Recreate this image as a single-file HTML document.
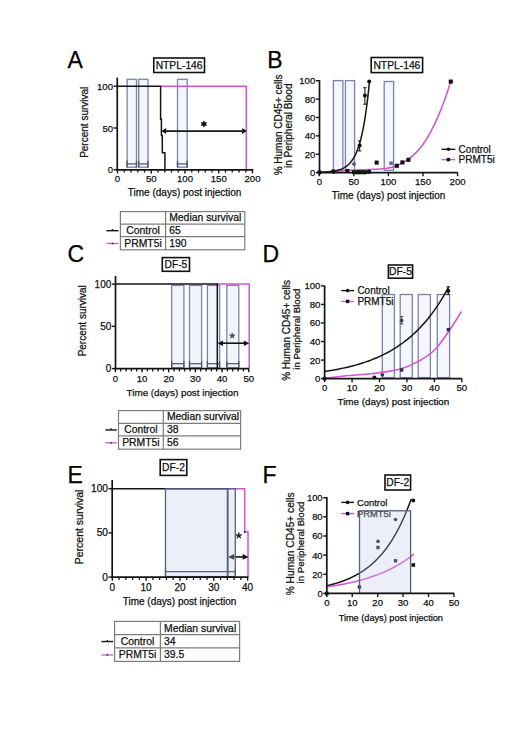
<!DOCTYPE html>
<html><head><meta charset="utf-8"><style>
html,body{margin:0;padding:0;background:#fff;}
svg{display:block;font-family:"Liberation Sans", sans-serif;}
</style></head><body>
<svg width="520" height="751" viewBox="0 0 520 751">
<rect width="520" height="751" fill="#fff"/>
<text x="67.4" y="67.6" font-size="23" text-anchor="start" fill="#000" stroke="#000" stroke-width="0.25" >A</text>
<rect x="153.75" y="58" width="50.75" height="14.5" fill="#fff" stroke="#111" stroke-width="1.6" />
<text x="179.12" y="68.85" font-size="10.3" text-anchor="middle" fill="#111" stroke="#111" stroke-width="0.25" >NTPL-146</text>
<rect x="127.1" y="79.3" width="9.4" height="87.9" fill="#f4f6fb" stroke="#7884ac" stroke-width="1.3" fill-opacity="1"/>
<line x1="127.1" y1="163.9" x2="136.5" y2="163.9" stroke="#4a5068" stroke-width="1.2" />
<line x1="127.1" y1="160.8" x2="127.1" y2="167.4" stroke="#4a5068" stroke-width="1.3" />
<line x1="136.5" y1="160.8" x2="136.5" y2="167.4" stroke="#4a5068" stroke-width="1.3" />
<rect x="138.7" y="79.3" width="9.3" height="87.9" fill="#f4f6fb" stroke="#7884ac" stroke-width="1.3" fill-opacity="1"/>
<line x1="138.7" y1="163.9" x2="148" y2="163.9" stroke="#4a5068" stroke-width="1.2" />
<line x1="138.7" y1="160.8" x2="138.7" y2="167.4" stroke="#4a5068" stroke-width="1.3" />
<line x1="148" y1="160.8" x2="148" y2="167.4" stroke="#4a5068" stroke-width="1.3" />
<rect x="177.5" y="79.3" width="9.7" height="87.9" fill="#f4f6fb" stroke="#7884ac" stroke-width="1.3" fill-opacity="1"/>
<line x1="177.5" y1="163.9" x2="187.2" y2="163.9" stroke="#4a5068" stroke-width="1.2" />
<line x1="177.5" y1="160.8" x2="177.5" y2="167.4" stroke="#4a5068" stroke-width="1.3" />
<line x1="187.2" y1="160.8" x2="187.2" y2="167.4" stroke="#4a5068" stroke-width="1.3" />
<path d="M161.04,86.2 H246.3 V169.8" stroke="#d452d4" stroke-width="1.5" fill="none" />
<path d="M117.2,86.2 H160.6 V119.2 H161.4 V135.5 H162.3 V152.8 H164.9 V169.8" stroke="#141414" stroke-width="1.5" fill="none" />
<line x1="165.7" y1="131.1" x2="242.6" y2="131.1" stroke="#141414" stroke-width="1.6" />
<path d="M161.4,131.1 L166.2,128.1 L166.2,134.1 Z" stroke="none" stroke-width="0" fill="#141414" />
<path d="M246.9,131.1 L242.1,128.1 L242.1,134.1 Z" stroke="none" stroke-width="0" fill="#141414" />
<line x1="203.9" y1="121.5" x2="203.9" y2="126.5" stroke="#141414" stroke-width="1.5" stroke-linecap="round"/>
<line x1="201.73" y1="122.75" x2="206.07" y2="125.25" stroke="#141414" stroke-width="1.5" stroke-linecap="round"/>
<line x1="201.73" y1="125.25" x2="206.07" y2="122.75" stroke="#141414" stroke-width="1.5" stroke-linecap="round"/>
<circle cx="203.9" cy="124" r="1.5" fill="#141414"/>
<line x1="117.25" y1="77.6" x2="117.25" y2="170.6" stroke="#141414" stroke-width="1.7" />
<line x1="113.65" y1="169.8" x2="117.25" y2="169.8" stroke="#141414" stroke-width="1.4" />
<text x="113.05" y="173.3" font-size="9.6" text-anchor="end" fill="#111" stroke="#111" stroke-width="0.25" >0</text>
<line x1="113.65" y1="128" x2="117.25" y2="128" stroke="#141414" stroke-width="1.4" />
<text x="113.05" y="131.5" font-size="9.6" text-anchor="end" fill="#111" stroke="#111" stroke-width="0.25" >50</text>
<line x1="113.65" y1="86.2" x2="117.25" y2="86.2" stroke="#141414" stroke-width="1.4" />
<text x="113.05" y="89.7" font-size="9.6" text-anchor="end" fill="#111" stroke="#111" stroke-width="0.25" >100</text>
<line x1="116.4" y1="169.8" x2="253.2" y2="169.8" stroke="#141414" stroke-width="1.7" />
<line x1="124.25" y1="169.8" x2="124.25" y2="172.6" stroke="#141414" stroke-width="1.3" />
<line x1="131" y1="169.8" x2="131" y2="172.6" stroke="#141414" stroke-width="1.3" />
<line x1="137.75" y1="169.8" x2="137.75" y2="172.6" stroke="#141414" stroke-width="1.3" />
<line x1="144.5" y1="169.8" x2="144.5" y2="172.6" stroke="#141414" stroke-width="1.3" />
<line x1="158" y1="169.8" x2="158" y2="172.6" stroke="#141414" stroke-width="1.3" />
<line x1="164.75" y1="169.8" x2="164.75" y2="172.6" stroke="#141414" stroke-width="1.3" />
<line x1="171.5" y1="169.8" x2="171.5" y2="172.6" stroke="#141414" stroke-width="1.3" />
<line x1="178.25" y1="169.8" x2="178.25" y2="172.6" stroke="#141414" stroke-width="1.3" />
<line x1="191.75" y1="169.8" x2="191.75" y2="172.6" stroke="#141414" stroke-width="1.3" />
<line x1="198.5" y1="169.8" x2="198.5" y2="172.6" stroke="#141414" stroke-width="1.3" />
<line x1="205.25" y1="169.8" x2="205.25" y2="172.6" stroke="#141414" stroke-width="1.3" />
<line x1="212" y1="169.8" x2="212" y2="172.6" stroke="#141414" stroke-width="1.3" />
<line x1="225.5" y1="169.8" x2="225.5" y2="172.6" stroke="#141414" stroke-width="1.3" />
<line x1="232.25" y1="169.8" x2="232.25" y2="172.6" stroke="#141414" stroke-width="1.3" />
<line x1="239" y1="169.8" x2="239" y2="172.6" stroke="#141414" stroke-width="1.3" />
<line x1="245.75" y1="169.8" x2="245.75" y2="172.6" stroke="#141414" stroke-width="1.3" />
<line x1="117.5" y1="169.8" x2="117.5" y2="173.4" stroke="#141414" stroke-width="1.4" />
<text x="117.5" y="182.4" font-size="9.6" text-anchor="middle" fill="#111" stroke="#111" stroke-width="0.25" >0</text>
<line x1="151.25" y1="169.8" x2="151.25" y2="173.4" stroke="#141414" stroke-width="1.4" />
<text x="151.25" y="182.4" font-size="9.6" text-anchor="middle" fill="#111" stroke="#111" stroke-width="0.25" >50</text>
<line x1="185" y1="169.8" x2="185" y2="173.4" stroke="#141414" stroke-width="1.4" />
<text x="185" y="182.4" font-size="9.6" text-anchor="middle" fill="#111" stroke="#111" stroke-width="0.25" >100</text>
<line x1="218.75" y1="169.8" x2="218.75" y2="173.4" stroke="#141414" stroke-width="1.4" />
<text x="218.75" y="182.4" font-size="9.6" text-anchor="middle" fill="#111" stroke="#111" stroke-width="0.25" >150</text>
<line x1="252.5" y1="169.8" x2="252.5" y2="173.4" stroke="#141414" stroke-width="1.4" />
<text x="252.5" y="182.4" font-size="9.6" text-anchor="middle" fill="#111" stroke="#111" stroke-width="0.25" >200</text>
<text x="184.6" y="196.1" font-size="10" text-anchor="middle" fill="#111" stroke="#111" stroke-width="0.25" >Time (days) post injection</text>
<text transform="translate(88,122.3) rotate(-90)" font-size="10" text-anchor="middle" fill="#111" stroke="#111" stroke-width="0.25" >Percent survival</text>
<rect x="120.4" y="211.6" width="124.4" height="38.2" fill="none" stroke="#7c7c7c" stroke-width="1.2" />
<line x1="120.4" y1="224.2" x2="244.8" y2="224.2" stroke="#7c7c7c" stroke-width="1.2" />
<line x1="120.4" y1="236.6" x2="244.8" y2="236.6" stroke="#7c7c7c" stroke-width="1.2" />
<line x1="165.6" y1="211.6" x2="165.6" y2="249.8" stroke="#7c7c7c" stroke-width="1.2" />
<text x="169.2" y="221.2" font-size="10.4" text-anchor="start" fill="#111" stroke="#111" stroke-width="0.25" >Median survival</text>
<text x="143" y="233.6" font-size="10.4" text-anchor="middle" fill="#111" stroke="#111" stroke-width="0.25" >Control</text>
<text x="143" y="246.6" font-size="10.4" text-anchor="middle" fill="#111" stroke="#111" stroke-width="0.25" >PRMT5i</text>
<text x="169.2" y="233.6" font-size="10.4" text-anchor="start" fill="#111" stroke="#111" stroke-width="0.25" >65</text>
<text x="169.2" y="246.6" font-size="10.4" text-anchor="start" fill="#111" stroke="#111" stroke-width="0.25" >190</text>
<line x1="106.5" y1="230.7" x2="118.5" y2="230.7" stroke="#141414" stroke-width="1.4" />
<line x1="112.5" y1="229.1" x2="112.5" y2="230.7" stroke="#141414" stroke-width="1.3" />
<line x1="106.5" y1="243.5" x2="118.5" y2="243.5" stroke="#d452d4" stroke-width="1.3" />
<circle cx="112.5" cy="243.5" r="0.9" fill="#333"/>
<text x="267.2" y="67.6" font-size="23" text-anchor="start" fill="#000" stroke="#000" stroke-width="0.25" >B</text>
<rect x="371.2" y="57.5" width="51.4" height="15.1" fill="#fff" stroke="#111" stroke-width="1.6" />
<text x="396.9" y="68.65" font-size="10.3" text-anchor="middle" fill="#111" stroke="#111" stroke-width="0.25" >NTPL-146</text>
<rect x="333.4" y="80.6" width="9.5" height="89.7" fill="#f4f6fb" stroke="#7884ac" stroke-width="1.3" fill-opacity="1"/>
<rect x="345.4" y="80.6" width="9.2" height="89.7" fill="#f4f6fb" stroke="#7884ac" stroke-width="1.3" fill-opacity="1"/>
<rect x="384.2" y="81.5" width="9.4" height="88.8" fill="#f4f6fb" stroke="#7884ac" stroke-width="1.3" fill-opacity="1"/>
<path d="M318.9,172.2 C320.75,172.1 325.65,171.87 330,171.6 C334.35,171.33 340,170.9 345,170.6 C350,170.3 355.83,169.97 360,169.8 C364.17,169.63 365.45,169.87 370,169.6 C374.55,169.33 382.97,168.82 387.3,168.2 C391.63,167.58 393.12,167 396,165.9 C398.88,164.8 401.72,163.35 404.6,161.6 C407.48,159.85 410.42,158 413.3,155.4 C416.18,152.8 419.02,149.88 421.9,146 C424.78,142.12 427.72,137.45 430.6,132.1 C433.48,126.75 436.62,119.95 439.2,113.9 C441.78,107.85 444.2,101.17 446.1,95.8 C448,90.43 449.85,84.05 450.6,81.7" stroke="#d452d4" stroke-width="1.5" fill="none" />
<path d="M319.3,172.32 L320.13,172.3 L320.97,172.27 L321.8,172.23 L322.64,172.19 L323.47,172.15 L324.31,172.11 L325.14,172.06 L325.98,172 L326.81,171.94 L327.64,171.88 L328.48,171.8 L329.31,171.72 L330.15,171.63 L330.98,171.53 L331.82,171.43 L332.65,171.31 L333.48,171.18 L334.32,171.03 L335.15,170.87 L335.99,170.7 L336.82,170.51 L337.66,170.29 L338.49,170.06 L339.33,169.8 L340.16,169.52 L340.99,169.21 L341.83,168.86 L342.66,168.49 L343.5,168.07 L344.33,167.61 L345.17,167.1 L346,166.55 L346.84,165.93 L347.67,165.26 L348.5,164.51 L349.34,163.69 L350.17,162.79 L351.01,161.8 L351.84,160.7 L352.68,159.5 L353.51,158.17 L354.35,156.71 L355.18,155.09 L356.01,153.32 L356.85,151.37 L357.68,149.22 L358.52,146.85 L359.35,144.23 L360.19,141.36 L361.02,138.19 L361.85,134.71 L362.69,130.87 L363.52,126.64 L364.36,121.98 L365.19,116.85 L366.03,111.2 L366.86,104.98 L367.7,98.12 L368.53,90.57 L369.36,82.26" stroke="#141414" stroke-width="1.5" fill="none" />
<line x1="364.9" y1="87.7" x2="364.9" y2="104.2" stroke="#222" stroke-width="1.1" />
<line x1="363.2" y1="87.7" x2="366.6" y2="87.7" stroke="#222" stroke-width="1.1" />
<line x1="363.2" y1="104.2" x2="366.6" y2="104.2" stroke="#222" stroke-width="1.1" />
<circle cx="364.9" cy="95.6" r="2" fill="#111"/>
<line x1="359.6" y1="140.9" x2="359.6" y2="150.9" stroke="#222" stroke-width="1.1" />
<line x1="357.9" y1="140.9" x2="361.3" y2="140.9" stroke="#222" stroke-width="1.1" />
<line x1="357.9" y1="150.9" x2="361.3" y2="150.9" stroke="#222" stroke-width="1.1" />
<circle cx="359.6" cy="145.6" r="2" fill="#111"/>
<path d="M354,161.6 L356.4,164 L354,166.4 L351.6,164 Z" fill="#555c70"/>
<circle cx="319.4" cy="172.4" r="2.3" fill="#111"/>
<circle cx="333.3" cy="171.6" r="2.3" fill="#111"/>
<circle cx="353.9" cy="172.2" r="2.3" fill="#111"/>
<circle cx="357" cy="172.2" r="2.3" fill="#111"/>
<circle cx="359.6" cy="172.2" r="2.3" fill="#111"/>
<circle cx="362.4" cy="172.2" r="2.3" fill="#111"/>
<circle cx="365.1" cy="172.2" r="2.3" fill="#111"/>
<circle cx="369" cy="171.8" r="2.3" fill="#111"/>
<circle cx="369.2" cy="81.6" r="2" fill="#111"/>
<rect x="345.25" y="168.95" width="4.1" height="4.1" fill="#111" stroke="none" stroke-width="1" />
<rect x="374.55" y="160.55" width="4.1" height="4.1" fill="#111" stroke="none" stroke-width="1" />
<rect x="394.75" y="163.75" width="4.1" height="4.1" fill="#111" stroke="none" stroke-width="1" />
<rect x="400.35" y="160.35" width="4.1" height="4.1" fill="#111" stroke="none" stroke-width="1" />
<rect x="406.35" y="157.75" width="4.1" height="4.1" fill="#111" stroke="none" stroke-width="1" />
<rect x="448.75" y="79.55" width="4.1" height="4.1" fill="#111" stroke="none" stroke-width="1" />
<rect x="389.3" y="161.4" width="3.6" height="3.6" fill="#6a6f85" stroke="none" stroke-width="1" />
<line x1="319.5" y1="80.2" x2="319.5" y2="173.4" stroke="#141414" stroke-width="1.7" />
<line x1="315.9" y1="172.6" x2="319.5" y2="172.6" stroke="#141414" stroke-width="1.4" />
<text x="315.3" y="176.1" font-size="9.6" text-anchor="end" fill="#111" stroke="#111" stroke-width="0.25" >0</text>
<line x1="315.9" y1="154.22" x2="319.5" y2="154.22" stroke="#141414" stroke-width="1.4" />
<text x="315.3" y="157.72" font-size="9.6" text-anchor="end" fill="#111" stroke="#111" stroke-width="0.25" >20</text>
<line x1="315.9" y1="135.84" x2="319.5" y2="135.84" stroke="#141414" stroke-width="1.4" />
<text x="315.3" y="139.34" font-size="9.6" text-anchor="end" fill="#111" stroke="#111" stroke-width="0.25" >40</text>
<line x1="315.9" y1="117.46" x2="319.5" y2="117.46" stroke="#141414" stroke-width="1.4" />
<text x="315.3" y="120.96" font-size="9.6" text-anchor="end" fill="#111" stroke="#111" stroke-width="0.25" >60</text>
<line x1="315.9" y1="99.08" x2="319.5" y2="99.08" stroke="#141414" stroke-width="1.4" />
<text x="315.3" y="102.58" font-size="9.6" text-anchor="end" fill="#111" stroke="#111" stroke-width="0.25" >80</text>
<line x1="315.9" y1="80.7" x2="319.5" y2="80.7" stroke="#141414" stroke-width="1.4" />
<text x="315.3" y="84.2" font-size="9.6" text-anchor="end" fill="#111" stroke="#111" stroke-width="0.25" >100</text>
<line x1="318.3" y1="172.6" x2="457.8" y2="172.6" stroke="#141414" stroke-width="1.7" />
<line x1="319.3" y1="172.6" x2="319.3" y2="176.2" stroke="#141414" stroke-width="1.4" />
<text x="319.3" y="185.2" font-size="9.6" text-anchor="middle" fill="#111" stroke="#111" stroke-width="0.25" >0</text>
<line x1="353.88" y1="172.6" x2="353.88" y2="176.2" stroke="#141414" stroke-width="1.4" />
<text x="353.88" y="185.2" font-size="9.6" text-anchor="middle" fill="#111" stroke="#111" stroke-width="0.25" >50</text>
<line x1="388.45" y1="172.6" x2="388.45" y2="176.2" stroke="#141414" stroke-width="1.4" />
<text x="388.45" y="185.2" font-size="9.6" text-anchor="middle" fill="#111" stroke="#111" stroke-width="0.25" >100</text>
<line x1="423.02" y1="172.6" x2="423.02" y2="176.2" stroke="#141414" stroke-width="1.4" />
<text x="423.02" y="185.2" font-size="9.6" text-anchor="middle" fill="#111" stroke="#111" stroke-width="0.25" >150</text>
<line x1="457.6" y1="172.6" x2="457.6" y2="176.2" stroke="#141414" stroke-width="1.4" />
<text x="457.6" y="185.2" font-size="9.6" text-anchor="middle" fill="#111" stroke="#111" stroke-width="0.25" >200</text>
<text x="388.6" y="198.6" font-size="10" text-anchor="middle" fill="#111" stroke="#111" stroke-width="0.25" >Time (days) post injection</text>
<text transform="translate(281.7,124.9) rotate(-90)" font-size="10" text-anchor="middle" fill="#111" stroke="#111" stroke-width="0.25" >% Human CD45+ cells</text>
<text transform="translate(292.1,125.8) rotate(-90)" font-size="10" text-anchor="middle" fill="#111" stroke="#111" stroke-width="0.25" >in Peripheral Blood</text>
<line x1="441.5" y1="149.3" x2="455.3" y2="149.3" stroke="#141414" stroke-width="1.4" />
<circle cx="448.4" cy="149.3" r="1.8" fill="#111"/>
<line x1="441.5" y1="159.6" x2="455.3" y2="159.6" stroke="#d452d4" stroke-width="1.4" />
<rect x="446.7" y="157.9" width="3.4" height="3.4" fill="#111" stroke="none" stroke-width="1" />
<text x="458.6" y="152.8" font-size="10" text-anchor="start" fill="#111" stroke="#111" stroke-width="0.25" >Control</text>
<text x="458.6" y="163" font-size="10" text-anchor="start" fill="#111" stroke="#111" stroke-width="0.25" >PRMT5i</text>
<text x="67.6" y="261.5" font-size="23" text-anchor="start" fill="#000" stroke="#000" stroke-width="0.25" >C</text>
<rect x="162.3" y="257.6" width="27.2" height="13.7" fill="#fff" stroke="#111" stroke-width="1.6" />
<text x="175.9" y="268.05" font-size="10.3" text-anchor="middle" fill="#111" stroke="#111" stroke-width="0.25" >DF-5</text>
<rect x="171.7" y="285.4" width="12.2" height="82.2" fill="#f3f5fb" stroke="#7c84aa" stroke-width="1.3" fill-opacity="1"/>
<line x1="171.7" y1="363.7" x2="183.9" y2="363.7" stroke="#4a5068" stroke-width="1.2" />
<line x1="171.7" y1="361" x2="171.7" y2="367.6" stroke="#4a5068" stroke-width="1.3" />
<line x1="183.9" y1="361" x2="183.9" y2="367.6" stroke="#4a5068" stroke-width="1.3" />
<rect x="189.5" y="285.4" width="12.1" height="82.2" fill="#f3f5fb" stroke="#7c84aa" stroke-width="1.3" fill-opacity="1"/>
<line x1="189.5" y1="363.7" x2="201.6" y2="363.7" stroke="#4a5068" stroke-width="1.2" />
<line x1="189.5" y1="361" x2="189.5" y2="367.6" stroke="#4a5068" stroke-width="1.3" />
<line x1="201.6" y1="361" x2="201.6" y2="367.6" stroke="#4a5068" stroke-width="1.3" />
<rect x="207.4" y="285.4" width="12.2" height="82.2" fill="#f3f5fb" stroke="#7c84aa" stroke-width="1.3" fill-opacity="1"/>
<line x1="207.4" y1="363.7" x2="219.6" y2="363.7" stroke="#4a5068" stroke-width="1.2" />
<line x1="207.4" y1="361" x2="207.4" y2="367.6" stroke="#4a5068" stroke-width="1.3" />
<line x1="219.6" y1="361" x2="219.6" y2="367.6" stroke="#4a5068" stroke-width="1.3" />
<rect x="226.8" y="285.4" width="12" height="82.2" fill="#f3f5fb" stroke="#7c84aa" stroke-width="1.3" fill-opacity="1"/>
<line x1="226.8" y1="363.7" x2="238.8" y2="363.7" stroke="#4a5068" stroke-width="1.2" />
<line x1="226.8" y1="361" x2="226.8" y2="367.6" stroke="#4a5068" stroke-width="1.3" />
<line x1="238.8" y1="361" x2="238.8" y2="367.6" stroke="#4a5068" stroke-width="1.3" />
<path d="M217.3,284.1 H249.2 V368.6" stroke="#d452d4" stroke-width="1.5" fill="none" />
<path d="M115.4,284.1 H217.3 V368.6" stroke="#141414" stroke-width="1.5" fill="none" />
<line x1="222.5" y1="343.2" x2="244.4" y2="343.2" stroke="#141414" stroke-width="1.6" />
<path d="M217.6,343.2 L223,340.5 L223,345.9 Z" stroke="none" stroke-width="0" fill="#141414" />
<path d="M249.3,343.2 L243.9,340.5 L243.9,345.9 Z" stroke="none" stroke-width="0" fill="#141414" />
<line x1="232.2" y1="335.7" x2="232.2" y2="333.3" stroke="#3a3a44" stroke-width="1.2" stroke-linecap="round"/>
<line x1="232.2" y1="335.7" x2="234.48" y2="334.96" stroke="#3a3a44" stroke-width="1.2" stroke-linecap="round"/>
<line x1="232.2" y1="335.7" x2="233.61" y2="337.64" stroke="#3a3a44" stroke-width="1.2" stroke-linecap="round"/>
<line x1="232.2" y1="335.7" x2="230.79" y2="337.64" stroke="#3a3a44" stroke-width="1.2" stroke-linecap="round"/>
<line x1="232.2" y1="335.7" x2="229.92" y2="334.96" stroke="#3a3a44" stroke-width="1.2" stroke-linecap="round"/>
<line x1="115.5" y1="275.8" x2="115.5" y2="369.4" stroke="#141414" stroke-width="1.7" />
<line x1="111.9" y1="368.6" x2="115.5" y2="368.6" stroke="#141414" stroke-width="1.4" />
<text x="111.3" y="372.1" font-size="10" text-anchor="end" fill="#111" stroke="#111" stroke-width="0.25" >0</text>
<line x1="111.9" y1="326.35" x2="115.5" y2="326.35" stroke="#141414" stroke-width="1.4" />
<text x="111.3" y="329.85" font-size="10" text-anchor="end" fill="#111" stroke="#111" stroke-width="0.25" >50</text>
<line x1="111.9" y1="284.1" x2="115.5" y2="284.1" stroke="#141414" stroke-width="1.4" />
<text x="111.3" y="287.6" font-size="10" text-anchor="end" fill="#111" stroke="#111" stroke-width="0.25" >100</text>
<line x1="114.6" y1="368.6" x2="249" y2="368.6" stroke="#141414" stroke-width="1.7" />
<line x1="120.73" y1="368.6" x2="120.73" y2="371.4" stroke="#141414" stroke-width="1.3" />
<line x1="126.07" y1="368.6" x2="126.07" y2="371.4" stroke="#141414" stroke-width="1.3" />
<line x1="131.4" y1="368.6" x2="131.4" y2="371.4" stroke="#141414" stroke-width="1.3" />
<line x1="136.74" y1="368.6" x2="136.74" y2="371.4" stroke="#141414" stroke-width="1.3" />
<line x1="147.4" y1="368.6" x2="147.4" y2="371.4" stroke="#141414" stroke-width="1.3" />
<line x1="152.74" y1="368.6" x2="152.74" y2="371.4" stroke="#141414" stroke-width="1.3" />
<line x1="158.07" y1="368.6" x2="158.07" y2="371.4" stroke="#141414" stroke-width="1.3" />
<line x1="163.41" y1="368.6" x2="163.41" y2="371.4" stroke="#141414" stroke-width="1.3" />
<line x1="174.07" y1="368.6" x2="174.07" y2="371.4" stroke="#141414" stroke-width="1.3" />
<line x1="179.41" y1="368.6" x2="179.41" y2="371.4" stroke="#141414" stroke-width="1.3" />
<line x1="184.74" y1="368.6" x2="184.74" y2="371.4" stroke="#141414" stroke-width="1.3" />
<line x1="190.08" y1="368.6" x2="190.08" y2="371.4" stroke="#141414" stroke-width="1.3" />
<line x1="200.74" y1="368.6" x2="200.74" y2="371.4" stroke="#141414" stroke-width="1.3" />
<line x1="206.08" y1="368.6" x2="206.08" y2="371.4" stroke="#141414" stroke-width="1.3" />
<line x1="211.41" y1="368.6" x2="211.41" y2="371.4" stroke="#141414" stroke-width="1.3" />
<line x1="216.75" y1="368.6" x2="216.75" y2="371.4" stroke="#141414" stroke-width="1.3" />
<line x1="227.41" y1="368.6" x2="227.41" y2="371.4" stroke="#141414" stroke-width="1.3" />
<line x1="232.75" y1="368.6" x2="232.75" y2="371.4" stroke="#141414" stroke-width="1.3" />
<line x1="238.08" y1="368.6" x2="238.08" y2="371.4" stroke="#141414" stroke-width="1.3" />
<line x1="243.42" y1="368.6" x2="243.42" y2="371.4" stroke="#141414" stroke-width="1.3" />
<line x1="115.4" y1="368.6" x2="115.4" y2="372.2" stroke="#141414" stroke-width="1.4" />
<text x="115.4" y="381.8" font-size="9.6" text-anchor="middle" fill="#111" stroke="#111" stroke-width="0.25" >0</text>
<line x1="142.07" y1="368.6" x2="142.07" y2="372.2" stroke="#141414" stroke-width="1.4" />
<text x="142.07" y="381.8" font-size="9.6" text-anchor="middle" fill="#111" stroke="#111" stroke-width="0.25" >10</text>
<line x1="168.74" y1="368.6" x2="168.74" y2="372.2" stroke="#141414" stroke-width="1.4" />
<text x="168.74" y="381.8" font-size="9.6" text-anchor="middle" fill="#111" stroke="#111" stroke-width="0.25" >20</text>
<line x1="195.41" y1="368.6" x2="195.41" y2="372.2" stroke="#141414" stroke-width="1.4" />
<text x="195.41" y="381.8" font-size="9.6" text-anchor="middle" fill="#111" stroke="#111" stroke-width="0.25" >30</text>
<line x1="222.08" y1="368.6" x2="222.08" y2="372.2" stroke="#141414" stroke-width="1.4" />
<text x="222.08" y="381.8" font-size="9.6" text-anchor="middle" fill="#111" stroke="#111" stroke-width="0.25" >40</text>
<line x1="248.75" y1="368.6" x2="248.75" y2="372.2" stroke="#141414" stroke-width="1.4" />
<text x="248.75" y="381.8" font-size="9.6" text-anchor="middle" fill="#111" stroke="#111" stroke-width="0.25" >50</text>
<text x="182.5" y="395.5" font-size="9.85" text-anchor="middle" fill="#111" stroke="#111" stroke-width="0.25" >Time (days) post injection</text>
<text transform="translate(86.3,320.8) rotate(-90)" font-size="10" text-anchor="middle" fill="#111" stroke="#111" stroke-width="0.25" >Percent survival</text>
<rect x="118.5" y="410.6" width="122.1" height="38.6" fill="none" stroke="#7c7c7c" stroke-width="1.2" />
<line x1="118.5" y1="423.4" x2="240.6" y2="423.4" stroke="#7c7c7c" stroke-width="1.2" />
<line x1="118.5" y1="435.9" x2="240.6" y2="435.9" stroke="#7c7c7c" stroke-width="1.2" />
<line x1="163.3" y1="410.6" x2="163.3" y2="449.2" stroke="#7c7c7c" stroke-width="1.2" />
<text x="166.9" y="420.4" font-size="10.4" text-anchor="start" fill="#111" stroke="#111" stroke-width="0.25" >Median survival</text>
<text x="140.9" y="432.9" font-size="10.4" text-anchor="middle" fill="#111" stroke="#111" stroke-width="0.25" >Control</text>
<text x="140.9" y="446" font-size="10.4" text-anchor="middle" fill="#111" stroke="#111" stroke-width="0.25" >PRMT5i</text>
<text x="166.9" y="432.9" font-size="10.4" text-anchor="start" fill="#111" stroke="#111" stroke-width="0.25" >38</text>
<text x="166.9" y="446" font-size="10.4" text-anchor="start" fill="#111" stroke="#111" stroke-width="0.25" >56</text>
<line x1="105.3" y1="429.95" x2="116.8" y2="429.95" stroke="#141414" stroke-width="1.4" />
<line x1="111.05" y1="428.35" x2="111.05" y2="429.95" stroke="#141414" stroke-width="1.3" />
<line x1="105.3" y1="442.85" x2="116.8" y2="442.85" stroke="#d452d4" stroke-width="1.3" />
<circle cx="111.05" cy="442.85" r="0.9" fill="#333"/>
<text x="262.6" y="261.5" font-size="23" text-anchor="start" fill="#000" stroke="#000" stroke-width="0.25" >D</text>
<rect x="388.4" y="265" width="24.2" height="13.2" fill="#fff" stroke="#111" stroke-width="1.6" />
<text x="400.5" y="275.2" font-size="10.3" text-anchor="middle" fill="#111" stroke="#111" stroke-width="0.25" >DF-5</text>
<rect x="382.3" y="294.5" width="12.1" height="83.1" fill="#f4f6fb" stroke="#7884ac" stroke-width="1.3" fill-opacity="1"/>
<rect x="400.2" y="294.5" width="12.1" height="83.1" fill="#f4f6fb" stroke="#7884ac" stroke-width="1.3" fill-opacity="1"/>
<rect x="418.2" y="294.5" width="12.2" height="83.1" fill="#f4f6fb" stroke="#7884ac" stroke-width="1.3" fill-opacity="1"/>
<rect x="437.3" y="294.5" width="12.3" height="83.1" fill="#f4f6fb" stroke="#7884ac" stroke-width="1.3" fill-opacity="1"/>
<path d="M324.6,371.46 L326.66,371.15 L328.73,370.83 L330.79,370.49 L332.85,370.14 L334.92,369.77 L336.98,369.39 L339.04,368.99 L341.11,368.57 L343.17,368.14 L345.23,367.69 L347.3,367.21 L349.36,366.72 L351.42,366.2 L353.49,365.66 L355.55,365.1 L357.61,364.52 L359.68,363.91 L361.74,363.27 L363.8,362.6 L365.87,361.91 L367.93,361.19 L369.99,360.43 L372.06,359.64 L374.12,358.82 L376.18,357.96 L378.25,357.07 L380.31,356.13 L382.37,355.16 L384.44,354.14 L386.5,353.08 L388.56,351.97 L390.63,350.82 L392.69,349.61 L394.75,348.35 L396.82,347.04 L398.88,345.67 L400.94,344.24 L403.01,342.75 L405.07,341.2 L407.13,339.58 L409.2,337.88 L411.26,336.12 L413.32,334.27 L415.39,332.35 L417.45,330.34 L419.51,328.25 L421.58,326.07 L423.64,323.79 L425.7,321.41 L427.77,318.93 L429.83,316.34 L431.89,313.64 L433.96,310.82 L436.02,307.88 L438.08,304.81 L440.15,301.61 L442.21,298.27 L444.27,294.78 L446.34,291.15 L448.4,287.35" stroke="#141414" stroke-width="1.5" fill="none" />
<path d="M324.6,378.2 C328.63,377.77 339.95,376.48 348.8,375.6 C357.65,374.72 369.03,374.03 377.7,372.9 C386.37,371.77 393.58,370.98 400.8,368.8 C408.02,366.62 415.23,363.07 421,359.8 C426.77,356.53 430.6,354.2 435.4,349.2 C440.2,344.2 445.45,336.08 449.8,329.8 C454.15,323.52 459.55,314.55 461.5,311.5" stroke="#d452d4" stroke-width="1.5" fill="none" />
<line x1="401.6" y1="316.5" x2="401.6" y2="324" stroke="#555b70" stroke-width="1.1" />
<line x1="399.9" y1="316.5" x2="403.3" y2="316.5" stroke="#555b70" stroke-width="1.1" />
<line x1="399.9" y1="324" x2="403.3" y2="324" stroke="#555b70" stroke-width="1.1" />
<circle cx="401.6" cy="320.4" r="1.9" fill="#3f4560"/>
<line x1="448.3" y1="286.8" x2="448.3" y2="294.5" stroke="#222" stroke-width="1.1" />
<line x1="446.6" y1="286.8" x2="450" y2="286.8" stroke="#222" stroke-width="1.1" />
<line x1="446.6" y1="294.5" x2="450" y2="294.5" stroke="#222" stroke-width="1.1" />
<circle cx="448.3" cy="291" r="2" fill="#111"/>
<rect x="446.7" y="327.9" width="3.4" height="3.4" fill="#2a2e40" stroke="none" stroke-width="1" />
<rect x="399.9" y="368.3" width="3.4" height="3.4" fill="#2a2e40" stroke="none" stroke-width="1" />
<circle cx="382.3" cy="374.8" r="1.9" fill="#2a3a60"/>
<circle cx="374.4" cy="377.6" r="2" fill="#111"/>
<circle cx="324.6" cy="378.6" r="2.2" fill="#111"/>
<line x1="324.6" y1="285.6" x2="324.6" y2="379.4" stroke="#141414" stroke-width="1.7" />
<line x1="321" y1="378.6" x2="324.6" y2="378.6" stroke="#141414" stroke-width="1.4" />
<text x="320.4" y="382.1" font-size="9.6" text-anchor="end" fill="#111" stroke="#111" stroke-width="0.25" >0</text>
<line x1="321" y1="360.06" x2="324.6" y2="360.06" stroke="#141414" stroke-width="1.4" />
<text x="320.4" y="363.56" font-size="9.6" text-anchor="end" fill="#111" stroke="#111" stroke-width="0.25" >20</text>
<line x1="321" y1="341.52" x2="324.6" y2="341.52" stroke="#141414" stroke-width="1.4" />
<text x="320.4" y="345.02" font-size="9.6" text-anchor="end" fill="#111" stroke="#111" stroke-width="0.25" >40</text>
<line x1="321" y1="322.98" x2="324.6" y2="322.98" stroke="#141414" stroke-width="1.4" />
<text x="320.4" y="326.48" font-size="9.6" text-anchor="end" fill="#111" stroke="#111" stroke-width="0.25" >60</text>
<line x1="321" y1="304.44" x2="324.6" y2="304.44" stroke="#141414" stroke-width="1.4" />
<text x="320.4" y="307.94" font-size="9.6" text-anchor="end" fill="#111" stroke="#111" stroke-width="0.25" >80</text>
<line x1="321" y1="285.9" x2="324.6" y2="285.9" stroke="#141414" stroke-width="1.4" />
<text x="320.4" y="289.4" font-size="9.6" text-anchor="end" fill="#111" stroke="#111" stroke-width="0.25" >100</text>
<line x1="323.8" y1="378.6" x2="462" y2="378.6" stroke="#141414" stroke-width="1.7" />
<line x1="324.6" y1="378.6" x2="324.6" y2="382.2" stroke="#141414" stroke-width="1.4" />
<text x="324.6" y="391.2" font-size="9.6" text-anchor="middle" fill="#111" stroke="#111" stroke-width="0.25" >0</text>
<line x1="352.05" y1="378.6" x2="352.05" y2="382.2" stroke="#141414" stroke-width="1.4" />
<text x="352.05" y="391.2" font-size="9.6" text-anchor="middle" fill="#111" stroke="#111" stroke-width="0.25" >10</text>
<line x1="379.5" y1="378.6" x2="379.5" y2="382.2" stroke="#141414" stroke-width="1.4" />
<text x="379.5" y="391.2" font-size="9.6" text-anchor="middle" fill="#111" stroke="#111" stroke-width="0.25" >20</text>
<line x1="406.95" y1="378.6" x2="406.95" y2="382.2" stroke="#141414" stroke-width="1.4" />
<text x="406.95" y="391.2" font-size="9.6" text-anchor="middle" fill="#111" stroke="#111" stroke-width="0.25" >30</text>
<line x1="434.4" y1="378.6" x2="434.4" y2="382.2" stroke="#141414" stroke-width="1.4" />
<text x="434.4" y="391.2" font-size="9.6" text-anchor="middle" fill="#111" stroke="#111" stroke-width="0.25" >40</text>
<line x1="461.85" y1="378.6" x2="461.85" y2="382.2" stroke="#141414" stroke-width="1.4" />
<text x="461.85" y="391.2" font-size="9.6" text-anchor="middle" fill="#111" stroke="#111" stroke-width="0.25" >50</text>
<text x="393.4" y="404.6" font-size="9.85" text-anchor="middle" fill="#111" stroke="#111" stroke-width="0.25" >Time (days) post injection</text>
<text transform="translate(289.9,330.4) rotate(-90)" font-size="10" text-anchor="middle" fill="#111" stroke="#111" stroke-width="0.25" >% Human CD45+ cells</text>
<text transform="translate(299.6,329.2) rotate(-90)" font-size="9.6" text-anchor="middle" fill="#111" stroke="#111" stroke-width="0.25" >in Peripheral Blood</text>
<line x1="341.3" y1="290.6" x2="354" y2="290.6" stroke="#141414" stroke-width="1.4" />
<circle cx="347.6" cy="290.6" r="1.8" fill="#111"/>
<line x1="341.3" y1="301.4" x2="354" y2="301.4" stroke="#d452d4" stroke-width="1.4" />
<rect x="345.9" y="299.7" width="3.4" height="3.4" fill="#111" stroke="none" stroke-width="1" />
<text x="357.4" y="294" font-size="10" text-anchor="start" fill="#111" stroke="#111" stroke-width="0.25" >Control</text>
<text x="357.4" y="304.6" font-size="10" text-anchor="start" fill="#111" stroke="#111" stroke-width="0.25" >PRMT5i</text>
<text x="67.6" y="483.2" font-size="23" text-anchor="start" fill="#000" stroke="#000" stroke-width="0.25" >E</text>
<rect x="160.2" y="459.6" width="26.6" height="15.8" fill="#fff" stroke="#111" stroke-width="1.6" />
<text x="173.5" y="471.1" font-size="10.3" text-anchor="middle" fill="#111" stroke="#111" stroke-width="0.25" >DF-2</text>
<path d="M227.6,488.7 H244.7 V531.8 H248.0 V577.1" stroke="#d452d4" stroke-width="1.5" fill="none" />
<circle cx="244.9" cy="532" r="0.9" fill="#222"/>
<path d="M112.2,488.7 H227.6 V577.1" stroke="#141414" stroke-width="1.5" fill="none" />
<line x1="233.5" y1="556.9" x2="243.1" y2="556.9" stroke="#141414" stroke-width="1.6" />
<path d="M228,556.9 L234,554 L234,559.8 Z" stroke="none" stroke-width="0" fill="#141414" />
<path d="M248.6,556.9 L242.6,554 L242.6,559.8 Z" stroke="none" stroke-width="0" fill="#141414" />
<line x1="238.8" y1="535.6" x2="238.8" y2="533" stroke="#1a1a1a" stroke-width="1.4" stroke-linecap="round"/>
<line x1="238.8" y1="535.6" x2="241.27" y2="534.8" stroke="#1a1a1a" stroke-width="1.4" stroke-linecap="round"/>
<line x1="238.8" y1="535.6" x2="240.33" y2="537.7" stroke="#1a1a1a" stroke-width="1.4" stroke-linecap="round"/>
<line x1="238.8" y1="535.6" x2="237.27" y2="537.7" stroke="#1a1a1a" stroke-width="1.4" stroke-linecap="round"/>
<line x1="238.8" y1="535.6" x2="236.33" y2="534.8" stroke="#1a1a1a" stroke-width="1.4" stroke-linecap="round"/>
<rect x="165.5" y="488.8" width="62.1" height="87.8" fill="#c0cae8" stroke="#575f80" stroke-width="1.3" fill-opacity="0.3"/>
<rect x="227.6" y="488.8" width="7.7" height="87.8" fill="#c0cae8" stroke="#575f80" stroke-width="1.3" fill-opacity="0.3"/>
<line x1="165.5" y1="571.6" x2="235.3" y2="571.6" stroke="#5a6078" stroke-width="1.3" />
<line x1="165.5" y1="568.8" x2="165.5" y2="576.8" stroke="#5a6078" stroke-width="1.3" />
<line x1="235.3" y1="568.8" x2="235.3" y2="576.8" stroke="#5a6078" stroke-width="1.3" />
<line x1="112.2" y1="480" x2="112.2" y2="577.9" stroke="#141414" stroke-width="1.7" />
<line x1="108.6" y1="577.1" x2="112.2" y2="577.1" stroke="#141414" stroke-width="1.4" />
<text x="108" y="580.6" font-size="10.2" text-anchor="end" fill="#111" stroke="#111" stroke-width="0.25" >0</text>
<line x1="108.6" y1="532.9" x2="112.2" y2="532.9" stroke="#141414" stroke-width="1.4" />
<text x="108" y="536.4" font-size="10.2" text-anchor="end" fill="#111" stroke="#111" stroke-width="0.25" >50</text>
<line x1="108.6" y1="488.7" x2="112.2" y2="488.7" stroke="#141414" stroke-width="1.4" />
<text x="108" y="492.2" font-size="10.2" text-anchor="end" fill="#111" stroke="#111" stroke-width="0.25" >100</text>
<line x1="111.4" y1="577.1" x2="248.4" y2="577.1" stroke="#141414" stroke-width="1.7" />
<line x1="119.07" y1="577.1" x2="119.07" y2="579.9" stroke="#141414" stroke-width="1.3" />
<line x1="125.83" y1="577.1" x2="125.83" y2="579.9" stroke="#141414" stroke-width="1.3" />
<line x1="132.6" y1="577.1" x2="132.6" y2="579.9" stroke="#141414" stroke-width="1.3" />
<line x1="139.36" y1="577.1" x2="139.36" y2="579.9" stroke="#141414" stroke-width="1.3" />
<line x1="152.9" y1="577.1" x2="152.9" y2="579.9" stroke="#141414" stroke-width="1.3" />
<line x1="159.66" y1="577.1" x2="159.66" y2="579.9" stroke="#141414" stroke-width="1.3" />
<line x1="166.43" y1="577.1" x2="166.43" y2="579.9" stroke="#141414" stroke-width="1.3" />
<line x1="173.19" y1="577.1" x2="173.19" y2="579.9" stroke="#141414" stroke-width="1.3" />
<line x1="186.73" y1="577.1" x2="186.73" y2="579.9" stroke="#141414" stroke-width="1.3" />
<line x1="193.49" y1="577.1" x2="193.49" y2="579.9" stroke="#141414" stroke-width="1.3" />
<line x1="200.26" y1="577.1" x2="200.26" y2="579.9" stroke="#141414" stroke-width="1.3" />
<line x1="207.02" y1="577.1" x2="207.02" y2="579.9" stroke="#141414" stroke-width="1.3" />
<line x1="220.56" y1="577.1" x2="220.56" y2="579.9" stroke="#141414" stroke-width="1.3" />
<line x1="227.32" y1="577.1" x2="227.32" y2="579.9" stroke="#141414" stroke-width="1.3" />
<line x1="234.09" y1="577.1" x2="234.09" y2="579.9" stroke="#141414" stroke-width="1.3" />
<line x1="240.85" y1="577.1" x2="240.85" y2="579.9" stroke="#141414" stroke-width="1.3" />
<line x1="112.3" y1="577.1" x2="112.3" y2="580.7" stroke="#141414" stroke-width="1.4" />
<text x="112.3" y="591" font-size="10" text-anchor="middle" fill="#111" stroke="#111" stroke-width="0.25" >0</text>
<line x1="146.13" y1="577.1" x2="146.13" y2="580.7" stroke="#141414" stroke-width="1.4" />
<text x="146.13" y="591" font-size="10" text-anchor="middle" fill="#111" stroke="#111" stroke-width="0.25" >10</text>
<line x1="179.96" y1="577.1" x2="179.96" y2="580.7" stroke="#141414" stroke-width="1.4" />
<text x="179.96" y="591" font-size="10" text-anchor="middle" fill="#111" stroke="#111" stroke-width="0.25" >20</text>
<line x1="213.79" y1="577.1" x2="213.79" y2="580.7" stroke="#141414" stroke-width="1.4" />
<text x="213.79" y="591" font-size="10" text-anchor="middle" fill="#111" stroke="#111" stroke-width="0.25" >30</text>
<line x1="247.62" y1="577.1" x2="247.62" y2="580.7" stroke="#141414" stroke-width="1.4" />
<text x="247.62" y="591" font-size="10" text-anchor="middle" fill="#111" stroke="#111" stroke-width="0.25" >40</text>
<text x="179.5" y="605.1" font-size="10" text-anchor="middle" fill="#111" stroke="#111" stroke-width="0.25" >Time (days) post injection</text>
<text transform="translate(82.5,526.9) rotate(-90)" font-size="10.5" text-anchor="middle" fill="#111" stroke="#111" stroke-width="0.25" >Percent survival</text>
<rect x="114.6" y="621.4" width="125" height="40" fill="none" stroke="#7c7c7c" stroke-width="1.2" />
<line x1="114.6" y1="634.6" x2="239.6" y2="634.6" stroke="#7c7c7c" stroke-width="1.2" />
<line x1="114.6" y1="647.9" x2="239.6" y2="647.9" stroke="#7c7c7c" stroke-width="1.2" />
<line x1="160.4" y1="621.4" x2="160.4" y2="661.4" stroke="#7c7c7c" stroke-width="1.2" />
<text x="164" y="631.6" font-size="10.4" text-anchor="start" fill="#111" stroke="#111" stroke-width="0.25" >Median survival</text>
<text x="137.5" y="644.9" font-size="10.4" text-anchor="middle" fill="#111" stroke="#111" stroke-width="0.25" >Control</text>
<text x="137.5" y="658.2" font-size="10.4" text-anchor="middle" fill="#111" stroke="#111" stroke-width="0.25" >PRMT5i</text>
<text x="164" y="644.9" font-size="10.4" text-anchor="start" fill="#111" stroke="#111" stroke-width="0.25" >34</text>
<text x="164" y="658.2" font-size="10.4" text-anchor="start" fill="#111" stroke="#111" stroke-width="0.25" >39.5</text>
<line x1="101.5" y1="641.55" x2="113.2" y2="641.55" stroke="#141414" stroke-width="1.4" />
<line x1="107.35" y1="639.95" x2="107.35" y2="641.55" stroke="#141414" stroke-width="1.3" />
<line x1="101.5" y1="654.95" x2="113.2" y2="654.95" stroke="#d452d4" stroke-width="1.3" />
<circle cx="107.35" cy="654.95" r="0.9" fill="#333"/>
<text x="262.4" y="482.6" font-size="23" text-anchor="start" fill="#000" stroke="#000" stroke-width="0.25" >F</text>
<rect x="385" y="475" width="25.6" height="15" fill="#fff" stroke="#111" stroke-width="1.6" />
<text x="397.8" y="486.1" font-size="10.3" text-anchor="middle" fill="#111" stroke="#111" stroke-width="0.25" >DF-2</text>
<path d="M326.8,585.74 L328.21,585.42 L329.61,585.07 L331.02,584.72 L332.43,584.35 L333.84,583.96 L335.24,583.56 L336.65,583.14 L338.06,582.7 L339.46,582.24 L340.87,581.76 L342.28,581.26 L343.69,580.74 L345.09,580.2 L346.5,579.64 L347.91,579.05 L349.31,578.44 L350.72,577.8 L352.13,577.13 L353.54,576.43 L354.94,575.71 L356.35,574.95 L357.76,574.16 L359.16,573.34 L360.57,572.48 L361.98,571.58 L363.39,570.65 L364.79,569.68 L366.2,568.66 L367.61,567.6 L369.01,566.5 L370.42,565.35 L371.83,564.15 L373.24,562.9 L374.64,561.59 L376.05,560.23 L377.46,558.81 L378.86,557.34 L380.27,555.79 L381.68,554.18 L383.09,552.51 L384.49,550.76 L385.9,548.93 L387.31,547.03 L388.71,545.05 L390.12,542.98 L391.53,540.82 L392.93,538.57 L394.34,536.23 L395.75,533.78 L397.16,531.23 L398.56,528.57 L399.97,525.8 L401.38,522.91 L402.78,519.89 L404.19,516.75 L405.6,513.47 L407.01,510.05 L408.41,506.48 L409.82,502.76 L411.23,498.89" stroke="#141414" stroke-width="1.5" fill="none" />
<path d="M326.8,586.8 L328.25,586.6 L329.7,586.39 L331.15,586.18 L332.6,585.96 L334.05,585.74 L335.5,585.51 L336.95,585.27 L338.4,585.03 L339.85,584.77 L341.3,584.51 L342.74,584.25 L344.19,583.97 L345.64,583.69 L347.09,583.39 L348.54,583.09 L349.99,582.78 L351.44,582.46 L352.89,582.13 L354.34,581.79 L355.79,581.44 L357.24,581.08 L358.69,580.71 L360.14,580.33 L361.59,579.93 L363.04,579.53 L364.49,579.11 L365.94,578.68 L367.39,578.23 L368.84,577.78 L370.29,577.31 L371.73,576.82 L373.18,576.32 L374.63,575.81 L376.08,575.28 L377.53,574.73 L378.98,574.17 L380.43,573.59 L381.88,572.99 L383.33,572.37 L384.78,571.74 L386.23,571.09 L387.68,570.41 L389.13,569.72 L390.58,569.01 L392.03,568.27 L393.48,567.52 L394.93,566.74 L396.38,565.93 L397.83,565.1 L399.28,564.25 L400.73,563.37 L402.17,562.47 L403.62,561.53 L405.07,560.57 L406.52,559.58 L407.97,558.57 L409.42,557.52 L410.87,556.43 L412.32,555.32 L413.77,554.17" stroke="#d452d4" stroke-width="1.5" fill="none" />
<circle cx="413.3" cy="500.5" r="1.9" fill="#111"/>
<rect x="411.5" y="563.2" width="3.6" height="3.6" fill="#111" stroke="none" stroke-width="1" />
<circle cx="326.8" cy="593.4" r="2.2" fill="#111"/>
<line x1="341.3" y1="502.4" x2="354" y2="502.4" stroke="#141414" stroke-width="1.4" />
<circle cx="347.6" cy="502.4" r="1.8" fill="#111"/>
<line x1="341.3" y1="513.6" x2="354" y2="513.6" stroke="#d452d4" stroke-width="1.4" />
<rect x="345.9" y="511.9" width="3.4" height="3.4" fill="#111" stroke="none" stroke-width="1" />
<text x="357" y="506.3" font-size="9.4" text-anchor="start" fill="#111" stroke="#111" stroke-width="0.25" >Control</text>
<text x="357" y="517.2" font-size="9.4" text-anchor="start" fill="#111" stroke="#111" stroke-width="0.25" >PRMT5i</text>
<rect x="357.8" y="585.3" width="3.4" height="3.4" fill="#222" stroke="none" stroke-width="1" />
<rect x="376.3" y="545.8" width="3.4" height="3.4" fill="#222" stroke="none" stroke-width="1" />
<rect x="393.8" y="559.1" width="3.4" height="3.4" fill="#222" stroke="none" stroke-width="1" />
<circle cx="378" cy="541.4" r="1.8" fill="#222"/>
<circle cx="395.5" cy="519.5" r="1.8" fill="#222"/>
<rect x="359.5" y="510.8" width="51.1" height="82.6" fill="#c0cae8" stroke="#575f80" stroke-width="1.3" fill-opacity="0.3"/>
<line x1="326.8" y1="496.9" x2="326.8" y2="594.2" stroke="#141414" stroke-width="1.7" />
<line x1="323.2" y1="593.4" x2="326.8" y2="593.4" stroke="#141414" stroke-width="1.4" />
<text x="322.6" y="596.9" font-size="9.4" text-anchor="end" fill="#111" stroke="#111" stroke-width="0.25" >0</text>
<line x1="323.2" y1="574.26" x2="326.8" y2="574.26" stroke="#141414" stroke-width="1.4" />
<text x="322.6" y="577.76" font-size="9.4" text-anchor="end" fill="#111" stroke="#111" stroke-width="0.25" >20</text>
<line x1="323.2" y1="555.12" x2="326.8" y2="555.12" stroke="#141414" stroke-width="1.4" />
<text x="322.6" y="558.62" font-size="9.4" text-anchor="end" fill="#111" stroke="#111" stroke-width="0.25" >40</text>
<line x1="323.2" y1="535.98" x2="326.8" y2="535.98" stroke="#141414" stroke-width="1.4" />
<text x="322.6" y="539.48" font-size="9.4" text-anchor="end" fill="#111" stroke="#111" stroke-width="0.25" >60</text>
<line x1="323.2" y1="516.84" x2="326.8" y2="516.84" stroke="#141414" stroke-width="1.4" />
<text x="322.6" y="520.34" font-size="9.4" text-anchor="end" fill="#111" stroke="#111" stroke-width="0.25" >80</text>
<line x1="323.2" y1="497.7" x2="326.8" y2="497.7" stroke="#141414" stroke-width="1.4" />
<text x="322.6" y="501.2" font-size="9.4" text-anchor="end" fill="#111" stroke="#111" stroke-width="0.25" >100</text>
<line x1="326" y1="593.4" x2="454.2" y2="593.4" stroke="#141414" stroke-width="1.7" />
<line x1="326.8" y1="593.4" x2="326.8" y2="597" stroke="#141414" stroke-width="1.4" />
<text x="326.8" y="605.6" font-size="9.5" text-anchor="middle" fill="#111" stroke="#111" stroke-width="0.25" >0</text>
<line x1="352.23" y1="593.4" x2="352.23" y2="597" stroke="#141414" stroke-width="1.4" />
<text x="352.23" y="605.6" font-size="9.5" text-anchor="middle" fill="#111" stroke="#111" stroke-width="0.25" >10</text>
<line x1="377.66" y1="593.4" x2="377.66" y2="597" stroke="#141414" stroke-width="1.4" />
<text x="377.66" y="605.6" font-size="9.5" text-anchor="middle" fill="#111" stroke="#111" stroke-width="0.25" >20</text>
<line x1="403.09" y1="593.4" x2="403.09" y2="597" stroke="#141414" stroke-width="1.4" />
<text x="403.09" y="605.6" font-size="9.5" text-anchor="middle" fill="#111" stroke="#111" stroke-width="0.25" >30</text>
<line x1="428.52" y1="593.4" x2="428.52" y2="597" stroke="#141414" stroke-width="1.4" />
<text x="428.52" y="605.6" font-size="9.5" text-anchor="middle" fill="#111" stroke="#111" stroke-width="0.25" >40</text>
<line x1="453.95" y1="593.4" x2="453.95" y2="597" stroke="#141414" stroke-width="1.4" />
<text x="453.95" y="605.6" font-size="9.5" text-anchor="middle" fill="#111" stroke="#111" stroke-width="0.25" >50</text>
<text x="390.8" y="621" font-size="9.2" text-anchor="middle" fill="#111" stroke="#111" stroke-width="0.25" >Time (days) post injection</text>
<text transform="translate(294.3,543.9) rotate(-90)" font-size="10.2" text-anchor="middle" fill="#111" stroke="#111" stroke-width="0.25" >% Human CD45+ cells</text>
<text transform="translate(303.6,542.5) rotate(-90)" font-size="9.7" text-anchor="middle" fill="#111" stroke="#111" stroke-width="0.25" >in Peripheral Blood</text>
</svg>
</body></html>
